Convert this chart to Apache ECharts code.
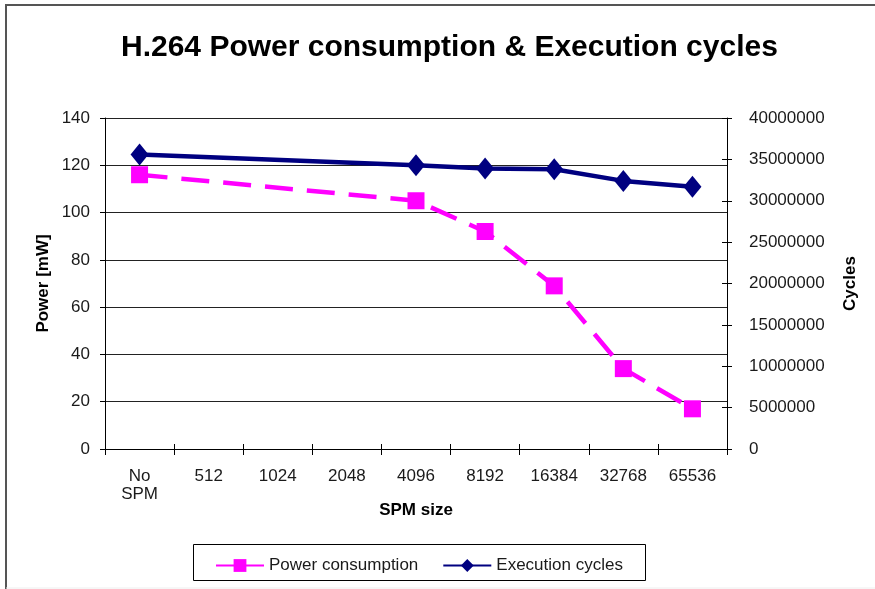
<!DOCTYPE html>
<html>
<head>
<meta charset="utf-8">
<script src="https://cdn.jsdelivr.net/npm/echarts@6/dist/echarts.min.js"></script>
<style>
  html, body { margin: 0; padding: 0; background: #fff; }
  #chart { width: 875px; height: 589px; }
</style>
</head>
<body>
<div id="chart"></div>
<script>
// SPM sizes on the x axis (no scratch-pad memory first)
const categories = ['No\nSPM', '512', '1024', '2048', '4096', '8192', '16384', '32768', '65536'];
// Power in mW; sizes without a measurement are left empty
const powerValues = [116, null, null, null, 105, 92, 69, 34, 17];
// Execution cycles
const cycleValues = [35600000, null, null, null, 34300000, 33900000, 33800000, 32400000, 31700000];
// Axis ranges
const powerAxis = { min: 0, max: 140, interval: 20 };
const cycleAxis = { min: 0, max: 40000000, interval: 5000000 };

const FONT = '"Liberation Sans", Arial, sans-serif';
const TXT = '#1a1a1a';

// plot box
const GRID = { left: 105, right: 148, top: 118, bottom: 140 };

const chart = echarts.init(document.getElementById('chart'), null, { renderer: 'canvas' });

chart.setOption({
  animation: false,
  backgroundColor: '#ffffff',
  title: {
    text: 'H.264 Power consumption & Execution cycles',
    left: 116,
    top: 28,
    textStyle: { fontFamily: FONT, fontSize: 30, fontWeight: 'bold', color: '#000' }
  },
  graphic: [
    { type: 'line', shape: { x1: 5, y1: 5, x2: 875, y2: 5 }, style: { stroke: '#555', lineWidth: 2 } },
    { type: 'line', shape: { x1: 6, y1: 4, x2: 6, y2: 589 }, style: { stroke: '#555', lineWidth: 2 } },
    { type: 'line', shape: { x1: 6, y1: 588, x2: 875, y2: 588 }, style: { stroke: '#eeeeee', lineWidth: 1 } },
    { type: 'rect', shape: { x: 193.5, y: 544.5, width: 452, height: 36 }, style: { fill: 'none', stroke: '#000', lineWidth: 1 } }
  ],
  legend: {
    left: 210,
    top: 552,
    itemWidth: 48,
    itemHeight: 16,
    itemGap: 24,
    lineStyle: { type: 'solid' },
    textStyle: { fontFamily: FONT, fontSize: 17, color: TXT },
    data: ['Power consumption', 'Execution cycles']
  },
  grid: { left: GRID.left, right: GRID.right, top: GRID.top, bottom: GRID.bottom, containLabel: false },
  xAxis: [
    {
      type: 'category',
      data: categories,
      position: 'bottom',
      boundaryGap: true,
      name: 'SPM size',
      nameLocation: 'middle',
      nameGap: 53,
      nameMoveOverlap: false,
      nameTextStyle: { fontFamily: FONT, fontSize: 17, fontWeight: 'bold', color: '#000' },
      axisLine: { lineStyle: { color: '#000', width: 1 } },
      axisTick: { show: true, length: 6, inside: false, lineStyle: { color: '#000' } },
      axisLabel: { fontFamily: FONT, fontSize: 17, color: TXT, margin: 18, lineHeight: 18, interval: 0 },
      splitLine: { show: false }
    },
    {
      // upper half of the crossing ticks on the category axis
      type: 'category',
      data: categories,
      position: 'bottom',
      boundaryGap: true,
      axisLine: { show: false },
      axisTick: { show: true, length: 5, inside: true, lineStyle: { color: '#000' } },
      axisLabel: { show: false },
      splitLine: { show: false }
    }
  ],
  yAxis: [
    {
      type: 'value',
      position: 'left',
      min: powerAxis.min, max: powerAxis.max, interval: powerAxis.interval,
      name: 'Power [mW]',
      nameLocation: 'middle',
      nameGap: 53,
      nameRotate: 90,
      nameMoveOverlap: false,
      nameTextStyle: { fontFamily: FONT, fontSize: 17, fontWeight: 'bold', color: '#000' },
      axisLine: { show: true, lineStyle: { color: '#000', width: 1 } },
      axisTick: { show: true, length: 5, lineStyle: { color: '#000' } },
      axisLabel: { fontFamily: FONT, fontSize: 17, color: TXT, margin: 15 },
      splitLine: { show: true, lineStyle: { color: '#222', width: 1 } }
    },
    {
      type: 'value',
      position: 'right',
      min: cycleAxis.min, max: cycleAxis.max, interval: cycleAxis.interval,
      name: 'Cycles',
      nameLocation: 'middle',
      nameGap: 115,
      nameRotate: 90,
      nameMoveOverlap: false,
      nameTextStyle: { fontFamily: FONT, fontSize: 17, fontWeight: 'bold', color: '#000' },
      axisLine: { show: true, lineStyle: { color: '#000', width: 1 } },
      axisTick: { show: true, length: 5, lineStyle: { color: '#000' } },
      axisLabel: { fontFamily: FONT, fontSize: 17, color: TXT, margin: 22, formatter: v => String(v) },
      splitLine: { show: false }
    },
    {
      // left half of the crossing ticks on the cycles axis
      type: 'value',
      position: 'right',
      min: cycleAxis.min, max: cycleAxis.max, interval: cycleAxis.interval,
      axisLine: { show: false },
      axisTick: { show: true, inside: true, length: 5, lineStyle: { color: '#000' } },
      axisLabel: { show: false },
      splitLine: { show: false }
    }
  ],
  series: [
    {
      name: 'Power consumption',
      type: 'line',
      xAxisIndex: 0,
      yAxisIndex: 0,
      data: powerValues,
      connectNulls: true,
      symbol: 'rect',
      symbolSize: 17,
      itemStyle: { color: '#ff00ff' },
      lineStyle: { color: '#ff00ff', width: 4.5, type: [28, 14] },
      z: 3
    },
    {
      name: 'Execution cycles',
      type: 'line',
      xAxisIndex: 0,
      yAxisIndex: 1,
      data: cycleValues,
      connectNulls: true,
      symbol: 'diamond',
      symbolSize: [18, 22],
      itemStyle: { color: '#000080' },
      lineStyle: { color: '#000080', width: 4.5 },
      z: 4
    }
  ]
});
</script>
</body>
</html>
